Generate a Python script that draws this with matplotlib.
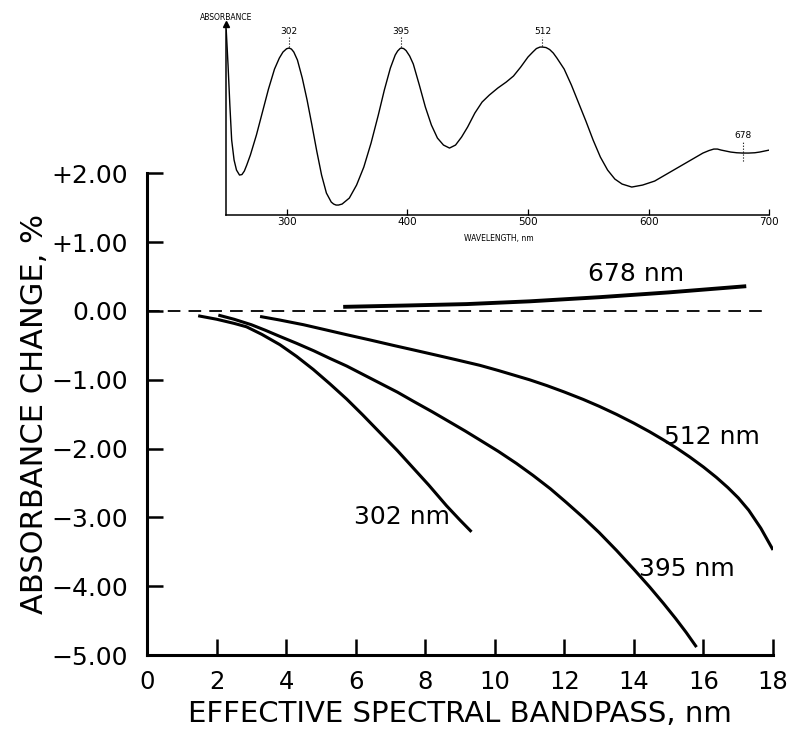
import numpy as np
import matplotlib.pyplot as plt

# main plot: absorbance change vs effective spectral bandpass
x302 = [1.47, 2.0, 2.5, 2.86, 3.3, 3.82, 4.3, 4.78, 5.26, 5.74, 6.2, 6.7, 7.2, 7.65,
        8.1, 8.61, 9.0, 9.33]
y302 = [-0.07, -0.12, -0.18, -0.23, -0.34, -0.49, -0.66, -0.85, -1.06, -1.28, -1.51,
        -1.77, -2.03, -2.28, -2.53, -2.83, -3.04, -3.21]

x395 = [2.05, 2.5, 3.0, 3.4, 3.82, 4.3, 4.8, 5.26, 5.74, 6.2, 6.7, 7.2, 7.65, 8.2,
        8.71, 9.15, 9.57, 10.1, 10.62, 11.1, 11.6, 12.05, 12.54, 13.0, 13.5, 14.0,
        14.45, 14.85, 15.2, 15.5, 15.8]
y395 = [-0.06, -0.12, -0.2, -0.28, -0.37, -0.47, -0.58, -0.69, -0.8, -0.92, -1.05,
        -1.18, -1.31, -1.465, -1.615, -1.745, -1.875, -2.04, -2.215, -2.39, -2.585,
        -2.78, -3.0, -3.22, -3.48, -3.755, -4.01, -4.25, -4.47, -4.67, -4.885]

x512 = [3.25, 3.8, 4.5, 5.1, 5.74, 6.4, 7.08, 7.65, 8.3, 8.9, 9.57, 10.1, 10.6, 11.0,
        11.5, 12.0, 12.54, 13.0, 13.5, 14.0, 14.45, 14.85, 15.22, 15.6, 16.0, 16.37,
        16.7, 17.0, 17.3, 17.65, 18.0]
y512 = [-0.08, -0.13, -0.2, -0.27, -0.345, -0.42, -0.5, -0.565, -0.64, -0.71, -0.79,
        -0.865, -0.94, -1.0, -1.085, -1.178, -1.285, -1.385, -1.503, -1.631, -1.755,
        -1.874, -1.99, -2.12, -2.268, -2.418, -2.566, -2.716, -2.895, -3.158, -3.473]

x678 = [5.64, 7.5, 9.19, 11.0, 13.0, 15.0, 17.23]
y678 = [0.06, 0.08, 0.1, 0.14, 0.2, 0.27, 0.36]

curve_names = ["302 nm", "395 nm", "512 nm", "678 nm"]
label_x = [7.34, 15.51, 16.25, 14.07]
label_y = [-3.0, -3.75, -1.83, 0.54]

xticks = np.arange(0, 19, 2)
yticks = np.arange(-5, 3, 1)
ytick_labels = ["\u22125.00", "\u22124.00", "\u22123.00", "\u22122.00", "\u22121.00",
                "0.00", "+1.00", "+2.00"]

# inset: absorbance spectrum (arbitrary units)
wl = [250, 251.5, 253, 254.5, 256.5, 258.5, 261, 263, 265, 267, 270, 275, 280, 285,
      290, 294, 297, 300, 302, 304, 306, 309, 313, 317, 321, 325, 329, 333, 337, 339,
      341, 343, 346, 352, 358, 364, 370, 376, 381, 386, 390, 392, 394, 395, 397, 399,
      402, 405, 410, 415, 420, 425, 430, 435, 440, 445, 450, 456, 462, 468, 475, 482,
      488, 494, 500, 504, 507, 510, 512, 515, 518, 521, 524, 530, 536, 542, 548, 554,
      560, 566, 572, 578, 586, 595, 605, 615, 625, 635, 645, 650, 654, 657, 660, 664,
      668, 673, 678, 683, 688, 692, 696, 700]
absorb = [185, 150, 110, 75, 55, 45, 40, 40.5, 44, 50, 60, 80, 103, 126,
          146, 157, 163, 166.3, 167, 166, 163, 155, 137, 115, 90, 64, 40, 22, 13, 11,
          10, 10, 11, 17, 30, 48, 72, 100, 125, 147, 160, 164, 166.5, 167, 166.5, 164.5,
          159, 151, 130, 108, 90, 77, 70, 67, 70, 78, 88, 102, 113, 120, 127, 133,
          139, 148, 158, 163, 166.5, 168, 168, 167.5, 165.5, 162, 157, 146, 130, 112, 94, 75,
          58, 45, 36, 31, 28, 30, 34, 41, 48, 55, 62, 64.5, 66, 66, 65, 64,
          63, 62.3, 62, 62, 62.3, 63, 64, 65]
peak_wl = [302, 395, 512, 678]
peak_lo = [168, 168, 169, 54]
peak_hi = [178, 178, 178, 74]
peak_text_y = [184, 184, 184, 80]
inset_ticks = [300, 400, 500, 600, 700]

plt.rcParams['font.family'] = 'DejaVu Sans'
fig = plt.figure(figsize=(7.88, 7.29), dpi=100)
ax = fig.add_axes([0.1866, 0.1015, 0.7944, 0.6607])

lw = 2.2
ax.plot(x302, y302, color='black', lw=lw, solid_capstyle='butt', solid_joinstyle='round')
ax.plot(x395, y395, color='black', lw=lw, solid_capstyle='butt', solid_joinstyle='round')
ax.plot(x512, y512, color='black', lw=lw, solid_capstyle='butt', solid_joinstyle='round')
ax.plot(x678, y678, color='black', lw=2.8, solid_capstyle='butt', solid_joinstyle='round')
ax.plot([0, 17.75], [0, 0], color='black', lw=1.3, dashes=(7, 4.5))

for name, tx, ty in zip(curve_names, label_x, label_y):
    ax.text(tx, ty, name, fontsize=18, ha='center', va='center')

ax.set_xlim(0, 18)
ax.set_ylim(-5, 2)
ax.set_xticks(xticks)
ax.set_xticklabels([str(v) for v in xticks])
ax.set_yticks(yticks)
ax.set_yticklabels(ytick_labels)
ax.tick_params(direction='in', length=11.5, width=1.8)
ax.tick_params(axis='y', pad=13.5, labelsize=18)
ax.tick_params(axis='x', pad=11, labelsize=17.5)
for s in ['top', 'right']:
    ax.spines[s].set_visible(False)
for s in ['left', 'bottom']:
    ax.spines[s].set_linewidth(2.2)
ax.set_xlabel("EFFECTIVE SPECTRAL BANDPASS, nm", fontsize=21, labelpad=4)
ax.set_ylabel("ABSORBANCE CHANGE, %", fontsize=22, labelpad=1.5)

# inset spectrum
ins = fig.add_axes([0.2871, 0.705, 0.6892, 0.262])
ins.set_facecolor('none')
ins.plot(wl, absorb, color='black', lw=1.0)
ins.set_xlim(250, 700)
ins.set_ylim(0, 191)
ins.set_xticks(inset_ticks)
ins.set_xticklabels([str(v) for v in inset_ticks])
ins.set_yticks([])
ins.tick_params(direction='in', length=4, width=0.9, labelsize=7.5, pad=1.5)
for s in ['top', 'right']:
    ins.spines[s].set_visible(False)
for s in ['left', 'bottom']:
    ins.spines[s].set_linewidth(1.1)
ins.plot(0, 1, '^k', ms=4, transform=ins.transAxes, clip_on=False)
for p, lo, hi, ty in zip(peak_wl, peak_lo, peak_hi, peak_text_y):
    ins.plot([p, p], [lo, hi], color='black', lw=0.8, ls=':')
    ins.text(p, ty, str(p), fontsize=6.5, ha='center', va='center')
ins.text(0, 1.035, "ABSORBANCE", fontsize=5.5, ha='center', va='center',
         transform=ins.transAxes)
ins.text(476, -23, "WAVELENGTH, nm", fontsize=5.5, ha='center', va='center',
         clip_on=False)

fig.savefig("out.png", dpi=100)
